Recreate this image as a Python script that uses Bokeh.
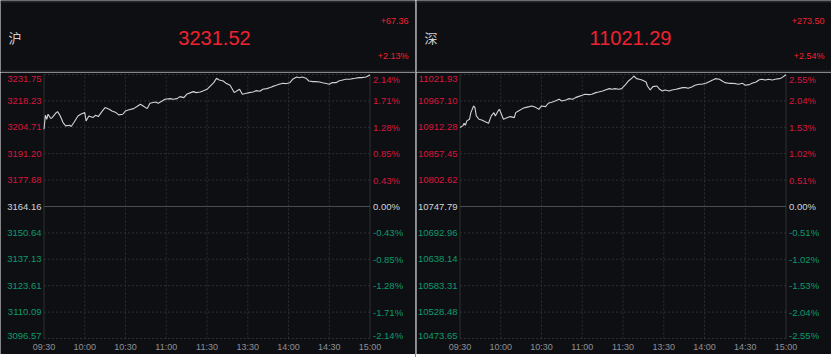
from bokeh.plotting import figure
from bokeh.layouts import row, column
from bokeh.models import Range1d
from bokeh.embed import file_html
from bokeh.resources import INLINE
from bokeh.core.properties import value

# ---------------- data ----------------
time_ticks = [0, 30, 60, 90, 120, 150, 180, 210, 240]
time_labels = ["09:30", "10:00", "10:30", "11:00", "11:30", "13:30", "14:00", "14:30", "15:00"]

sh_name = "沪"
sh_last = "3231.52"
sh_change = "+67.36"
sh_pct = "+2.13%"
sh_base = 3164.16
sh_ticks = [3231.75, 3218.23, 3204.71, 3191.20, 3177.68, 3164.16,
            3150.64, 3137.13, 3123.61, 3110.09, 3096.57]
sh_tick_labels = ["3231.75", "3218.23", "3204.71", "3191.20", "3177.68", "3164.16",
                  "3150.64", "3137.13", "3123.61", "3110.09", "3096.57"]
sh_pct_labels = ["2.14%", "1.71%", "1.28%", "0.85%", "0.43%", "0.00%",
                 "-0.43%", "-0.85%", "-1.28%", "-1.71%", "-2.14%"]
sh_minutes = [0, 1, 2, 3, 5, 6, 9, 10, 12, 14, 16, 19, 20, 22, 25, 27, 30, 31, 33, 36,
              38, 40, 43, 45, 48, 50, 53, 55, 58, 60, 62, 66, 69, 71, 73, 76, 78, 82, 84, 87,
              89, 93, 95, 98, 100, 103, 105, 108, 110, 112, 115, 117, 120, 122, 125, 127, 129, 132, 134, 137,
              139, 140, 143, 144, 146, 149, 151, 154, 156, 159, 161, 164, 166, 168, 171, 173, 176, 178, 181, 183,
              186, 188, 190, 193, 195, 198, 200, 203, 205, 207, 210, 212, 215, 217, 220, 222, 225, 227, 229, 232,
              234, 237, 240]
sh_prices = [3203.73, 3210.89, 3208.84, 3211.40, 3209.18, 3209.69, 3212.25, 3212.76, 3210.54, 3207.14,
             3205.44, 3205.78, 3205.10, 3207.14, 3210.54, 3211.40, 3212.25, 3207.99, 3210.54, 3209.69,
             3210.89, 3210.21, 3213.10, 3214.80, 3213.95, 3213.10, 3212.25, 3211.06, 3211.40, 3213.10,
             3213.61, 3214.29, 3215.65, 3216.51, 3215.65, 3214.29, 3217.02, 3217.70, 3217.02, 3218.21,
             3219.06, 3219.40, 3219.06, 3219.40, 3220.42, 3219.91, 3221.62, 3222.47, 3222.98, 3222.47,
             3222.81, 3223.32, 3224.17, 3225.53, 3227.57, 3229.79, 3228.94, 3228.43, 3227.23, 3226.21,
             3223.83, 3222.47, 3223.83, 3224.17, 3221.62, 3222.13, 3222.47, 3222.81, 3223.49, 3223.15,
             3224.17, 3224.51, 3225.02, 3225.53, 3226.21, 3226.72, 3227.23, 3227.06, 3227.57, 3229.28,
             3230.47, 3230.13, 3230.47, 3229.79, 3228.43, 3228.09, 3228.09, 3227.92, 3227.57, 3227.23,
             3226.72, 3227.57, 3227.57, 3228.43, 3228.94, 3229.28, 3229.28, 3229.62, 3229.79, 3230.13,
             3230.13, 3230.47, 3231.52]

sz_name = "深"
sz_last = "11021.29"
sz_change = "+273.50"
sz_pct = "+2.54%"
sz_base = 10747.79
sz_ticks = [11021.93, 10967.10, 10912.28, 10857.45, 10802.62, 10747.79,
            10692.96, 10638.14, 10583.31, 10528.48, 10473.65]
sz_tick_labels = ["11021.93", "10967.10", "10912.28", "10857.45", "10802.62", "10747.79",
                  "10692.96", "10638.14", "10583.31", "10528.48", "10473.65"]
sz_pct_labels = ["2.55%", "2.04%", "1.53%", "1.02%", "0.51%", "0.00%",
                 "-0.51%", "-1.02%", "-1.53%", "-2.04%", "-2.55%"]
sz_minutes = [0, 2, 3, 4, 5, 7, 8, 10, 11, 12, 14, 16, 19, 21, 23, 25, 26, 28, 29, 31,
              32, 35, 37, 40, 41, 43, 46, 48, 51, 53, 56, 58, 60, 63, 65, 68, 70, 73, 75, 78,
              80, 83, 85, 87, 90, 92, 95, 97, 100, 102, 105, 107, 110, 112, 114, 117, 119, 122, 124, 127,
              128, 130, 132, 134, 137, 138, 140, 142, 145, 147, 149, 151, 154, 156, 159, 161, 164, 166, 168, 171,
              173, 176, 178, 181, 183, 186, 188, 191, 193, 195, 198, 200, 203, 205, 208, 210, 213, 215, 218, 220,
              222, 225, 227, 230, 232, 235, 237, 240]
sz_prices = [10911.7, 10915.2, 10920.7, 10916.5, 10925.6, 10929.0, 10942.8, 10956.6, 10953.2, 10935.9,
             10929.0, 10927.6, 10923.5, 10920.7, 10935.9, 10942.8, 10935.9, 10946.3, 10949.7, 10935.9,
             10929.0, 10932.4, 10934.5, 10932.4, 10942.8, 10946.3, 10951.1, 10953.2, 10955.2, 10956.6,
             10953.2, 10949.7, 10956.6, 10955.2, 10962.2, 10964.9, 10967.0, 10970.5, 10967.0, 10969.0,
             10971.8, 10970.5, 10973.9, 10976.0, 10978.8, 10980.8, 10980.1, 10980.8, 10984.3, 10985.6,
             10987.7, 10989.8, 10992.6, 10991.2, 10992.6, 10991.2, 10992.6, 11001.5, 11008.5, 11015.4,
             11018.8, 11013.3, 11011.9, 11010.5, 11006.4, 10998.1, 10989.8, 10996.7, 10998.1, 10991.2,
             10987.7, 10989.8, 10987.7, 10989.8, 10991.2, 10992.6, 10994.6, 10994.6, 10993.3, 10996.7,
             10999.5, 11001.6, 11001.6, 11003.6, 11006.4, 11010.5, 11013.3, 11011.9, 11008.5, 11005.0,
             11003.6, 11003.6, 11002.9, 11001.6, 11003.6, 10999.5, 11000.9, 11003.6, 11006.4, 11010.5,
             11011.9, 11010.5, 11011.9, 11010.5, 11011.9, 11013.3, 11015.4, 11021.29]

# ---------------- style / layout ----------------
BG = "#0e0f13"
BORDER = "#25272b"
GRID = "#2d2f34"
FRAME = "#2e3035"
ZERO = "#4a4c51"
RED = "#d8163c"
RED_BIG = "#ee2230"
GREEN = "#0f9a6c"
WHITE = "#d4d4d4"
XLAB = "#8e9094"
LINE = "#d2d2d2"
FONT = "Liberation Sans"

PW = 415          # panel width
HH = 72           # header height
BH = 282          # body height
PX_L, PX_R = 43.5, 369.5   # plot area, px inside the panel
PY_T, PY_B = 2.0, 266.0    # plot area, px inside the body


def bare_fig(w, h, xr, yr, bg):
    f = figure(width=w, height=h, x_range=xr, y_range=yr, min_border=0,
               toolbar_location=None, output_backend="svg",
               x_axis_location=None, y_axis_location=None,
               background_fill_color=bg, border_fill_color=bg, outline_line_color=None)
    f.grid.visible = False
    return f


def make_header(name, last, change, pct):
    h = bare_fig(PW, HH, Range1d(0, PW), Range1d(HH, 0), BG)
    h.quad(left=[0, 0], right=[PW, PW], top=[0, 70], bottom=[2, 72],
           fill_color=BORDER, line_color=None)
    h.text(x=[8], y=[37], text=[name], text_font=value("Noto Sans CJK SC"),
           text_font_size="13px", text_color="#cfcfcf", text_align="left", text_baseline="middle")
    h.text(x=[214], y=[37], text=[last], text_font=value(FONT),
           text_font_size="20px", text_color=RED_BIG, text_align="center", text_baseline="middle")
    h.text(x=[408], y=[20], text=[change], text_font=value(FONT),
           text_font_size="9px", text_color=RED_BIG, text_align="right", text_baseline="middle")
    h.text(x=[408], y=[55], text=[pct], text_font=value(FONT),
           text_font_size="9px", text_color=RED_BIG, text_align="right", text_baseline="middle")
    return h


def make_body(minutes, prices, ticks, tick_labels, pct_labels, base):
    lo, hi = min(ticks), max(ticks)
    mpp = 240.0 / (PX_R - PX_L)          # minutes per pixel
    upp = (hi - lo) / (PY_B - PY_T)      # price units per pixel
    xr = Range1d(-PX_L * mpp, (PW - PX_L) * mpp)
    yr = Range1d(lo - (BH - PY_B) * upp, hi + PY_T * upp)
    p = bare_fig(PW, BH, xr, yr, BG)

    # dashed grid
    vg = time_ticks[1:-1]
    p.segment(x0=vg, x1=vg, y0=[lo] * len(vg), y1=[hi] * len(vg),
              line_color=GRID, line_width=1, line_dash="2 2")
    hg = [t for t in ticks if t != base]
    p.segment(x0=[0] * len(hg), x1=[240] * len(hg), y0=hg, y1=hg,
              line_color=GRID, line_width=1, line_dash="2 2")
    # frame sides
    p.segment(x0=[0, 240], x1=[0, 240], y0=[lo, lo], y1=[hi, hi],
              line_color=FRAME, line_width=1)
    # previous-close line
    p.segment(x0=[0], x1=[240], y0=[base], y1=[base], line_color=ZERO, line_width=1)

    # price line
    p.line(minutes, prices, line_color=LINE, line_width=1.1)

    # y labels (edge labels nudged inside the plot height)
    colors = [RED if t > base else (WHITE if t == base else GREEN) for t in ticks]
    ly = list(ticks)
    ly[0] = ticks[0] - 4.5 * upp
    ly[-1] = ticks[-1] + 3 * upp
    n = len(ticks)
    p.text(x=[-2.5 * mpp] * n, y=ly, text=tick_labels, text_color=colors,
           text_align="right", text_baseline="middle",
           text_font=value(FONT), text_font_size="9.5px")
    p.text(x=[240 + 3 * mpp] * n, y=ly, text=pct_labels, text_color=colors,
           text_align="left", text_baseline="middle",
           text_font=value(FONT), text_font_size="9.5px")

    # time labels
    m = len(time_ticks)
    p.text(x=time_ticks, y=[lo - 8.5 * upp] * m, text=time_labels, text_color=XLAB,
           text_align="center", text_baseline="middle",
           text_font=value(FONT), text_font_size="9px")
    return p


def make_strip(w, h):
    return bare_fig(w, h, Range1d(0, 1), Range1d(0, 1), BORDER)


left = column(make_header(sh_name, sh_last, sh_change, sh_pct),
              make_body(sh_minutes, sh_prices, sh_ticks, sh_tick_labels, sh_pct_labels, sh_base),
              make_strip(PW, 3), spacing=0)
right = column(make_header(sz_name, sz_last, sz_change, sz_pct),
               make_body(sz_minutes, sz_prices, sz_ticks, sz_tick_labels, sz_pct_labels, sz_base),
               make_strip(PW, 3), spacing=0)
layout = row(left, make_strip(1, 357), right, spacing=0)

open("out.html", "w").write(file_html(layout, INLINE))
